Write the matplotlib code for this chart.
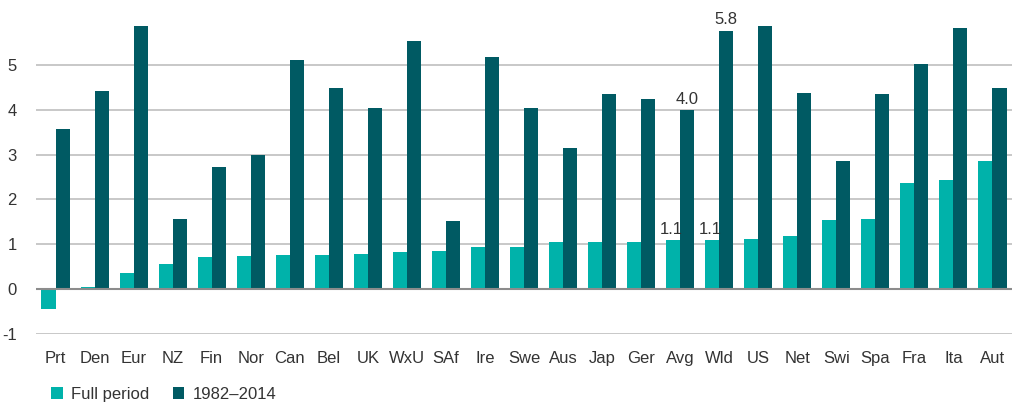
import matplotlib.pyplot as plt
import numpy as np

plt.rcParams["font.family"] = ["Liberation Sans", "DejaVu Sans"]
plt.rcParams["axes.unicode_minus"] = False

countries = ["Prt", "Den", "Eur", "NZ", "Fin", "Nor", "Can", "Bel", "UK", "WxU",
             "SAf", "Ire", "Swe", "Aus", "Jap", "Ger", "Avg", "Wld", "US", "Net",
             "Swi", "Spa", "Fra", "Ita", "Aut"]
full_period = [-0.45, 0.05, 0.35, 0.57, 0.71, 0.74, 0.75, 0.75, 0.78, 0.82,
               0.86, 0.93, 0.93, 1.06, 1.06, 1.05, 1.09, 1.09, 1.12, 1.19,
               1.54, 1.57, 2.37, 2.44, 2.85]
recent = [3.56, 4.42, 5.87, 1.56, 2.73, 3.0, 5.1, 4.48, 4.04, 5.53,
          1.52, 5.18, 4.04, 3.14, 4.35, 4.23, 3.99, 5.76, 5.86, 4.37,
          2.86, 4.34, 5.03, 5.82, 4.48]
labels_full = {"Avg": "1.1", "Wld": "1.1"}
labels_recent = {"Avg": "4.0", "Wld": "5.8"}

light = "#00B2AA"
dark = "#005A63"
text_col = "#333333"

fig = plt.figure(figsize=(10.24, 4.11), dpi=100)
ax = fig.add_axes([36 / 1024, 1 - 334 / 411, 976 / 1024, 314 / 411])

x = np.arange(len(countries))
w = 0.36
ax.bar(x - w / 2, full_period, w, color=light, label="Full period", zorder=3)
ax.bar(x + w / 2, recent, w, color=dark, label="1982\u20132014", zorder=3)

for i, c in enumerate(countries):
    if c in labels_full:
        ax.text(i - w / 2 - 0.05, full_period[i] + 0.08, labels_full[c], ha="center",
                va="bottom", fontsize=12, color=text_col)
    if c in labels_recent:
        ax.text(i + w / 2, recent[i] + 0.08, labels_recent[c], ha="center",
                va="bottom", fontsize=12, color=text_col)

ax.set_xlim(-0.5, len(countries) - 0.5)
ax.set_ylim(-1, 6)
ax.set_yticks(range(-1, 6))
ax.set_xticks(x, countries)
ax.grid(axis="y", color="#BFBFBF", linewidth=1.2, zorder=0)
ax.axhline(0, color="#8C8C8C", linewidth=1.5, zorder=4)
for s in ax.spines.values():
    s.set_visible(False)
ax.tick_params(axis="both", length=0, labelsize=12, colors=text_col)
ax.tick_params(axis="y", pad=14)
ax.tick_params(axis="x", pad=12)

ax.legend(loc="upper left", bbox_to_anchor=(0.0, -0.12), ncol=2, frameon=False,
          fontsize=12, handlelength=0.7, handleheight=0.7, handletextpad=0.5,
          columnspacing=1.4, labelcolor=text_col)

fig.savefig("out.png", dpi=100)
